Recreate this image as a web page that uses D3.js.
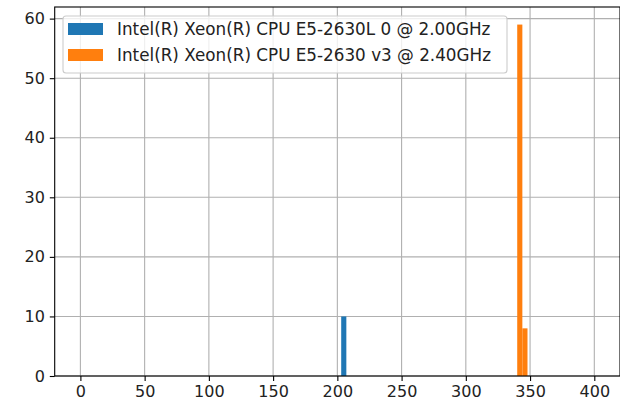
<!DOCTYPE html>
<html><head><meta charset="utf-8">
<script src="https://cdn.jsdelivr.net/npm/d3@7"></script>
<style>body{margin:0;background:#fff}svg{display:block}text{font-family:"DejaVu Sans",sans-serif}</style>
</head><body><svg id="c" width="620" height="402"></svg>
<script>
const seriesNames = ["Intel(R) Xeon(R) CPU E5-2630L 0 @ 2.00GHz", "Intel(R) Xeon(R) CPU E5-2630 v3 @ 2.40GHz"];
const colors = ["#1f77b4", "#ff7f0e"];
const binWidth = 4;
const blueBinStarts = [203];
const blueCounts = [10];
const orangeBinStarts = [340, 344];
const orangeCounts = [59, 8];
const xTicks = [0, 50, 100, 150, 200, 250, 300, 350, 400];
const yTicks = [0, 10, 20, 30, 40, 50, 60];

const svg = d3.select("#c");
const L = 54.7, R = 620, T = 7, B = 376;
const x = d3.scaleLinear().domain([-20, 420]).range([L, R]);
const y = d3.scaleLinear().domain([0, 61.95]).range([B, T]);
const fs = 16;
const lfs = 16.8;

// grid
svg.append("g").selectAll("line").data(xTicks).join("line")
  .attr("x1", d => x(d)).attr("x2", d => x(d)).attr("y1", T).attr("y2", B)
  .attr("stroke", "#b0b0b0").attr("stroke-width", 1.1);
svg.append("g").selectAll("line").data(yTicks).join("line")
  .attr("x1", L).attr("x2", R).attr("y1", d => y(d)).attr("y2", d => y(d))
  .attr("stroke", "#b0b0b0").attr("stroke-width", 1.1);

// bars
const series = [
  {starts: blueBinStarts, counts: blueCounts, color: colors[0]},
  {starts: orangeBinStarts, counts: orangeCounts, color: colors[1]}
];
series.forEach(s => {
  svg.append("g").selectAll("rect").data(s.starts.map((d, i) => ({x0: d, v: s.counts[i]}))).join("rect")
    .attr("x", d => x(d.x0)).attr("width", d => x(d.x0 + binWidth) - x(d.x0))
    .attr("y", d => y(d.v)).attr("height", d => y(0) - y(d.v))
    .attr("fill", s.color);
});

// axes
const xa = svg.append("g").attr("transform", `translate(0,${B})`)
  .call(d3.axisBottom(x).tickValues(xTicks).tickSize(4.9).tickPadding(4.9).tickFormat(d3.format("d")));
const ya = svg.append("g").attr("transform", `translate(${L},0)`)
  .call(d3.axisLeft(y).tickValues(yTicks).tickSize(4.9).tickPadding(4.9).tickFormat(d3.format("d")));
[xa, ya].forEach(a => {
  a.select(".domain").remove();
  a.selectAll("line").attr("stroke", "#000").attr("stroke-width", 1.1);
  a.selectAll("text").attr("font-size", fs).attr("fill", "#222").style("font-family", '"DejaVu Sans",sans-serif');
});

// spines
svg.append("rect").attr("x", L).attr("y", T).attr("width", R - L).attr("height", B - T)
  .attr("fill", "none").attr("stroke", "#000").attr("stroke-width", 1.1);

// legend
const lg = svg.append("g");
lg.append("rect").attr("x", 63).attr("y", 16).attr("width", 444).attr("height", 57).attr("rx", 3)
  .attr("fill", "#fff").attr("fill-opacity", 0.8).attr("stroke", "#cccccc").attr("stroke-width", 1.1);
seriesNames.forEach((n, i) => {
  const yy = 23 + i * 26;
  lg.append("rect").attr("x", 68).attr("y", yy).attr("width", 35).attr("height", 12).attr("fill", colors[i]);
  lg.append("text").attr("x", 117).attr("y", yy + 6).attr("dy", "0.36em").attr("font-size", lfs).attr("fill", "#222").text(n);
});
</script></body></html>
